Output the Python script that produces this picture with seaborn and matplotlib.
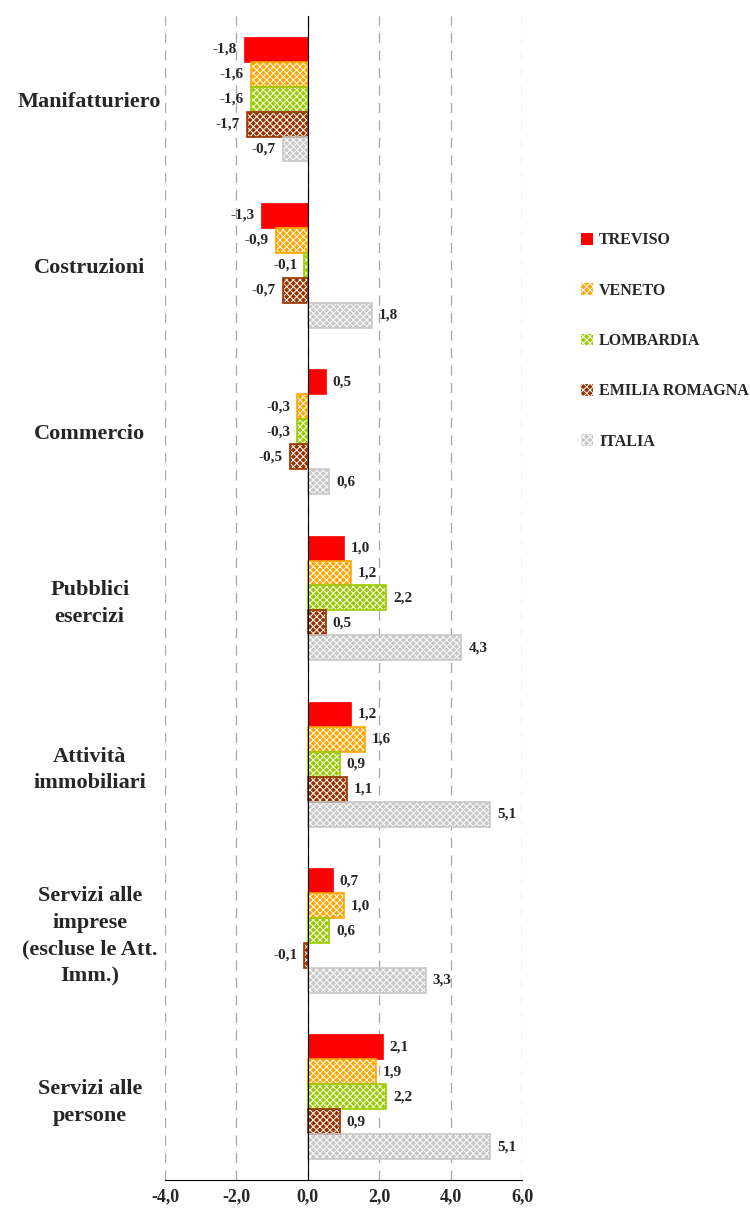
import pandas as pd
import numpy as np
import matplotlib.pyplot as plt
import seaborn as sns
from matplotlib.patches import Patch, Rectangle
from matplotlib.ticker import FuncFormatter, FixedLocator

sns.set_style('white')
plt.rcParams['font.family'] = ['Liberation Serif', 'DejaVu Serif']
plt.rcParams['font.weight'] = 'bold'
plt.rcParams['hatch.linewidth'] = 0.7

categories = ['Manifatturiero', 'Costruzioni', 'Commercio', 'Pubblici\nesercizi',
              'Attività\nimmobiliari', 'Servizi alle\nimprese\n(escluse le Att.\nImm.)',
              'Servizi alle\npersone']
regions = ['TREVISO', 'VENETO', 'LOMBARDIA', 'EMILIA ROMAGNA', 'ITALIA']

treviso   = [-1.8, -1.3, 0.5, 1.0, 1.2, 0.7, 2.1]
veneto    = [-1.6, -0.9, -0.3, 1.2, 1.6, 1.0, 1.9]
lombardia = [-1.6, -0.1, -0.3, 2.2, 0.9, 0.6, 2.2]
emilia    = [-1.7, -0.7, -0.5, 0.5, 1.1, -0.1, 0.9]
italia    = [-0.7, 1.8, 0.6, 4.3, 5.1, 3.3, 5.1]

colors  = ['#FF0000', '#FFA500', '#99CC00', '#993300', '#C8C8C8']
hatches = [None, 'xxxxx', 'xxxxx', 'xxxxx', 'xxxxx']

series = [treviso, veneto, lombardia, emilia, italia]
df = pd.DataFrame({
    'categoria': categories * len(regions),
    'regione': np.repeat(regions, len(categories)),
    'valore': np.concatenate(series),
})

fig = plt.figure(figsize=(7.5, 12.08), dpi=100)
ax = fig.add_axes([0.22, 0.0232, 0.476, 0.9636])

sns.barplot(data=df, y='categoria', x='valore', hue='regione',
            order=categories, hue_order=regions, palette=colors, saturation=1,
            orient='h', width=0.75, legend=False, ax=ax, errorbar=None)

# tratteggio bianco + bordo colorato
for cont, col, h, vals in zip(ax.containers, colors, hatches, series):
    for p in cont:
        if h:
            p.set_hatch(h)
            p.set_edgecolor('white')
            p.set_linewidth(0)
            ax.add_patch(Rectangle(p.get_xy(), p.get_width(), p.get_height(),
                                   fill=False, edgecolor=col, lw=1.2, zorder=p.get_zorder()))
        else:
            p.set_edgecolor(col)
            p.set_linewidth(0.5)
    ax.bar_label(cont, labels=[f'{v:.1f}'.replace('.', ',') for v in vals],
                 padding=5, fontsize=11, fontweight='bold')

ax.set_xlim(-4, 6)
ax.set_ylim(6.5, -0.5)
ax.xaxis.set_major_locator(FixedLocator([-4, -2, 0, 2, 4, 6]))
ax.xaxis.set_major_formatter(FuncFormatter(lambda v, _: f'{v:.1f}'.replace('.', ',')))
ax.grid(axis='x', color='#A6A6A6', linestyle=(0, (8, 6)), linewidth=0.9)
ax.set_axisbelow(True)

for s in ['top', 'right']:
    ax.spines[s].set_visible(False)
ax.spines['left'].set_position(('data', 0))
ax.spines['left'].set_color('black')
ax.spines['bottom'].set_color('black')
ax.spines['left'].set_zorder(5)

ax.yaxis.set_minor_locator(FixedLocator(np.arange(-0.5, 7.0, 1.0)))
ax.tick_params(axis='y', which='major', length=0, pad=157, labelsize=16)
ax.tick_params(axis='y', which='minor', length=5, direction='out', color='black')
ax.tick_params(axis='x', length=5, direction='inout', labelsize=13, color='black')
for lab in ax.get_yticklabels():
    lab.set_ha('center')
    lab.set_multialignment('center')
    lab.set_fontweight('bold')
    lab.set_linespacing(1.45)
for lab in ax.get_xticklabels():
    lab.set_fontweight('bold')
ax.set_xlabel('')
ax.set_ylabel('')

handles = [Patch(facecolor=c, hatch=h, edgecolor='white' if h else c, linewidth=0)
           for c, h in zip(colors, hatches)]
fig.legend(handles, regions, loc='center left', bbox_to_anchor=(0.755, 0.7177),
           frameon=False, handlelength=0.75, handleheight=0.75,
           handletextpad=0.4, labelspacing=2.15, prop={'weight': 'bold', 'size': 11.5})

plt.savefig('out.png', dpi=100)
